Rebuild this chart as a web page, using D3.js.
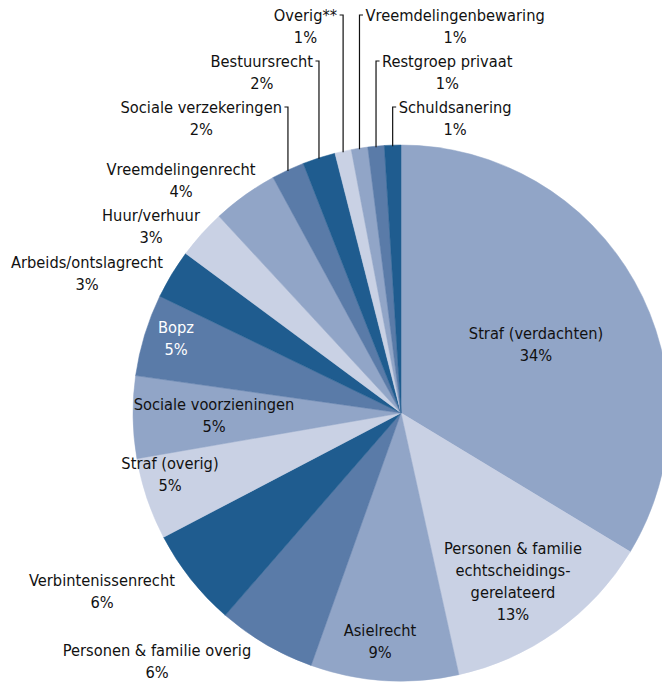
<!DOCTYPE html>
<html>
<head>
<meta charset="utf-8">
<script src="https://cdn.jsdelivr.net/npm/d3@7"></script>
<style>
  html, body { margin: 0; padding: 0; background: #fff; }
  svg { display: block; }
  text { font-family: "DejaVu Sans Condensed", "DejaVu Sans", sans-serif; font-size: 16.3px; fill: #111; }
</style>
</head>
<body>
<svg id="chart" width="662" height="684"></svg>
<script>
// Categories in clockwise order, starting at 12 o'clock
const categories = [
  "Straf (verdachten)",
  "Personen & familie echtscheidingsgerelateerd",
  "Asielrecht",
  "Personen & familie overig",
  "Verbintenissenrecht",
  "Straf (overig)",
  "Sociale voorzieningen",
  "Bopz",
  "Arbeids/ontslagrecht",
  "Huur/verhuur",
  "Vreemdelingenrecht",
  "Sociale verzekeringen",
  "Bestuursrecht",
  "Overig**",
  "Vreemdelingenbewaring",
  "Restgroep privaat",
  "Schuldsanering"
];
// Share of cases (%)
const shares = [34, 13, 9, 6, 6, 5, 5, 5, 3, 3, 4, 2, 2, 1, 1, 1, 1];
// Label lines as printed
const labelLines = [
  ["Straf (verdachten)"],
  ["Personen & familie", "echtscheidings-", "gerelateerd"],
  ["Asielrecht"],
  ["Personen & familie overig"],
  ["Verbintenissenrecht"],
  ["Straf (overig)"],
  ["Sociale voorzieningen"],
  ["Bopz"],
  ["Arbeids/ontslagrecht"],
  ["Huur/verhuur"],
  ["Vreemdelingenrecht"],
  ["Sociale verzekeringen"],
  ["Bestuursrecht"],
  ["Overig**"],
  ["Vreemdelingenbewaring"],
  ["Restgroep privaat"],
  ["Schuldsanering"]
];

// Fill cycle: medium, light, medium, mid-dark, dark, light, ...
const palette = { medium: "#91a5c7", light: "#c9d1e4", middark: "#5a7ba8", dark: "#1f5c8f" };
const fillOrder = ["medium", "light", "medium", "middark", "dark", "light", "medium", "middark",
  "dark", "light", "medium", "middark", "dark", "light", "medium", "middark", "dark"];

// Label placement: free labels are centred on (x, y); called-out labels hang off a leader line
const labelLayout = [
  { x: 536, y: 333 },
  { x: 513, y: 548 },
  { x: 380, y: 630 },
  { x: 157, y: 650 },
  { x: 102, y: 580 },
  { x: 170, y: 463 },
  { x: 214, y: 404 },
  { x: 176, y: 327, color: "#fff" },
  { x: 87,  y: 262 },
  { x: 151, y: 215 },
  { x: 181, y: 169 },
  { leader: "left",  y: 107 },
  { leader: "left",  y: 61 },
  { leader: "left",  y: 15 },
  { leader: "right", y: 15 },
  { leader: "right", y: 61 },
  { leader: "right", y: 107 }
];
const lineGap = 22;

const svg = d3.select("#chart");
const cx = 401, cy = 413, radius = 268;

const data = categories.map((c, i) => ({ name: c, value: shares[i], i }));
const pie = d3.pie().value(d => d.value).sort(null).startAngle(0).endAngle(2 * Math.PI);
const arcs = pie(data);
const arc = d3.arc().innerRadius(0).outerRadius(radius);

const g = svg.append("g").attr("transform", `translate(${cx},${cy})`);
g.selectAll("path.slice")
  .data(arcs)
  .join("path")
  .attr("class", "slice")
  .attr("d", arc)
  .attr("fill", d => palette[fillOrder[d.data.i]])
  .attr("stroke", d => palette[fillOrder[d.data.i]])
  .attr("stroke-width", 0.5);

const labels = svg.append("g");
arcs.forEach(a => {
  const i = a.data.i;
  const lay = labelLayout[i];
  const lines = labelLines[i].concat([shares[i] + "%"]);
  const color = lay.color || "#111";

  if (!lay.leader) {
    const t = labels.append("text")
      .attr("text-anchor", "middle")
      .attr("dominant-baseline", "central")
      .style("fill", color);
    lines.forEach((ln, k) => {
      t.append("tspan").attr("x", lay.x).attr("y", lay.y + k * lineGap).text(ln);
    });
    return;
  }

  // Leader line: rises vertically from the arc at the slice's mid angle
  const mid = (a.startAngle + a.endAngle) / 2;
  const lx = cx + radius * Math.sin(mid);
  const ly = cy - radius * Math.cos(mid);
  const dir = lay.leader === "left" ? -1 : 1;
  const tick = 3.5;
  labels.append("path")
    .attr("d", `M${lx},${ly + 1}V${lay.y}H${lx + dir * tick}`)
    .attr("fill", "none")
    .attr("stroke", "#111")
    .attr("stroke-width", 1.2);

  const nameText = labels.append("text")
    .attr("dominant-baseline", "central")
    .attr("text-anchor", dir < 0 ? "end" : "start")
    .attr("x", lx + dir * 6)
    .attr("y", lay.y)
    .text(lines[0]);
  const w = nameText.node().getComputedTextLength();
  const centre = dir < 0 ? lx - 6 - w / 2 : lx + 6 + w / 2;
  labels.append("text")
    .attr("dominant-baseline", "central")
    .attr("text-anchor", "middle")
    .attr("x", centre)
    .attr("y", lay.y + lineGap)
    .text(lines[1]);
});
</script>
</body>
</html>
